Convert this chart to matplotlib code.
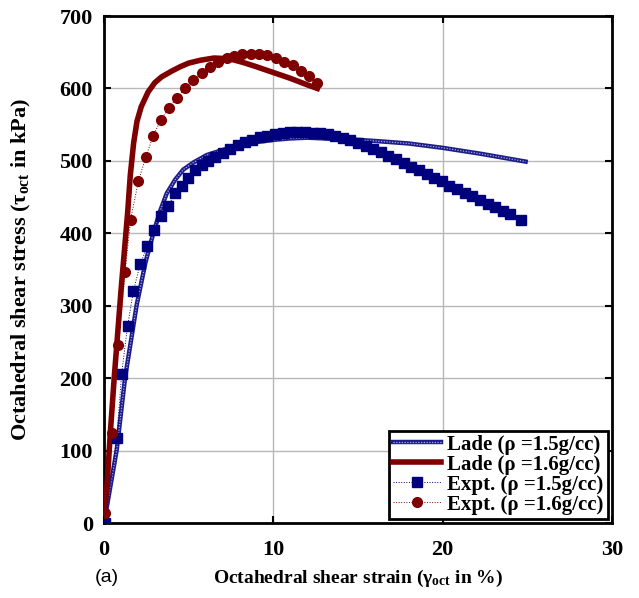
import matplotlib
matplotlib.use('Agg')
import matplotlib.pyplot as plt
from matplotlib.legend_handler import HandlerTuple

# Expt. rho = 1.5 g/cc (blue squares)
expt15_x = [0.06, 0.75, 1.04, 1.39, 1.73, 2.13, 2.56, 2.95, 3.34, 3.8, 4.19, 4.6, 4.95,
            5.37, 5.77, 6.16, 6.56, 7.0, 7.44, 7.89, 8.33, 8.76, 9.21, 9.65, 10.1, 10.55,
            10.99, 11.42, 11.87, 12.32, 12.76, 13.2, 13.65, 14.1, 14.55, 15.0, 15.45,
            15.9, 16.35, 16.8, 17.25, 17.7, 18.15, 18.6, 19.05, 19.5, 19.95, 20.4, 20.85,
            21.3, 21.75, 22.2, 22.65, 23.1, 23.55, 24.0, 24.6]
expt15_y = [0, 117, 206, 272, 320, 357, 382, 405, 424, 438, 455, 466, 476,
            487, 495, 500, 506, 511, 517, 522, 526, 529, 533, 535, 537, 538,
            540, 540, 540, 539, 538, 537, 535, 532, 529, 525, 521,
            517, 512, 507, 502, 497, 492, 487, 482, 477, 472, 466, 461,
            456, 451, 446, 441, 436, 431, 426, 418]

# Expt. rho = 1.6 g/cc (red circles)
expt16_x = [0.06, 0.45, 0.85, 1.24, 1.57, 2.03, 2.48, 2.91, 3.34, 3.83, 4.29, 4.78, 5.28,
            5.77, 6.26, 6.75, 7.24, 7.7, 8.17, 8.66, 9.16, 9.65, 10.16, 10.65, 11.14,
            11.63, 12.1, 12.6]
expt16_y = [14, 124, 246, 346, 419, 472, 506, 535, 556, 573, 587, 600, 612,
            621, 630, 637, 642, 645, 647, 648, 648, 646, 642, 636, 632,
            624, 617, 607]

# Lade model curves
lade15_x = [0, 0.75, 1.24, 1.92, 2.45, 2.91, 3.3, 3.7, 4.2, 4.68, 5.3, 6.06, 7.0, 8.03,
            9.0, 10.0, 11.0, 12.0, 13.0, 14.0, 15.0, 16.3, 18.0, 20.0, 22.2, 24.9]
lade15_y = [0, 101, 200, 300, 360, 400, 430, 455, 474, 488, 498, 508, 515, 522,
            526, 529, 531, 532, 531, 530, 529, 527, 524, 518, 510, 499]

lade16_x = [0, 0.2, 0.37, 0.6, 0.8, 1.0, 1.2, 1.4, 1.55, 1.75, 1.95, 2.2, 2.6, 3.0, 3.4,
            4.0, 4.5, 5.0, 5.7, 6.5, 7.4, 8.2, 9.0, 10.0, 11.0, 12.0, 12.6]
lade16_y = [0, 60, 124, 200, 260, 320, 375, 430, 480, 525, 555, 575, 595, 608, 616,
            624, 630, 635, 639, 642, 641, 636, 630, 622, 614, 605, 600]

legend_labels = ['Lade (\u03c1 =1.5g/cc)', 'Lade (\u03c1 =1.6g/cc)',
                 'Expt. (\u03c1 =1.5g/cc)', 'Expt. (\u03c1 =1.6g/cc)']

plt.rcParams['font.family'] = 'Liberation Serif'
plt.rcParams['font.weight'] = 'bold'
plt.rcParams['mathtext.fontset'] = 'custom'
plt.rcParams['mathtext.rm'] = 'Liberation Serif:bold'
plt.rcParams['mathtext.it'] = 'Liberation Serif:bold'
plt.rcParams['mathtext.bf'] = 'Liberation Serif:bold'

fig = plt.figure(figsize=(6.39, 5.98), dpi=100)
ax = fig.add_axes([0.1628, 0.1254, 0.7949, 0.8478])

blue = '#00007f'
red = '#7f0000'

l15a, = ax.plot(lade15_x, lade15_y, color='#1c1c8a', lw=3.2, zorder=3)
l15b, = ax.plot(lade15_x, lade15_y, color='#a8a8dc', lw=0.9, ls=(0, (1, 1.2)), zorder=3)
l16, = ax.plot(lade16_x, lade16_y, color=red, lw=4, zorder=3)
e15, = ax.plot(expt15_x, expt15_y, color=blue, lw=0.7, ls=':', marker='s', ms=6.5,
               mfc=blue, mec=blue, zorder=4)
e16, = ax.plot(expt16_x, expt16_y, color=red, lw=0.7, ls=':', marker='o', ms=7,
               mfc=red, mec=red, zorder=4)

ax.set_xlim(0, 30)
ax.set_ylim(0, 700)
ax.set_xticks([0, 10, 20, 30])
ax.set_yticks(range(0, 701, 100))
ax.grid(True, color='#b8b8b8', lw=1.0, ls='-')
ax.set_axisbelow(True)
ax.tick_params(direction='in', length=5, width=1.5, labelsize=16, top=True, right=True,
               pad=8)
ax.tick_params(axis='x', pad=12)
for lab in ax.get_xticklabels() + ax.get_yticklabels():
    lab.set_fontweight('bold')
for s in ax.spines.values():
    s.set_linewidth(2)

ax.set_xlabel('Octahedral shear strain (\u03b3$_{\\mathbf{oct}}$ in %)', fontsize=14,
              fontweight='bold')
ax.xaxis.set_label_coords(0.5, -0.088)
ax.set_ylabel('Octahedral shear stress (\u03c4$_{\\mathbf{oct}}$ in kPa)', fontsize=16,
              fontweight='bold')
ax.yaxis.set_label_coords(-0.14, 0.5)

fig.text(0.148, 0.034, '(a)', fontsize=14, fontweight='normal', family='Liberation Sans',
         ha='left', va='center')

leg = ax.legend([(l15a, l15b), l16, e15, e16], legend_labels,
                handler_map={tuple: HandlerTuple(ndivide=1, pad=0)},
                loc='lower right', fontsize=15, fancybox=False, framealpha=1,
                edgecolor='black', borderpad=0.2, labelspacing=0.0,
                handlelength=2.3, handletextpad=0.3, borderaxespad=0.2)
leg.get_frame().set_linewidth(2)
for t in leg.get_texts():
    t.set_fontweight('bold')

fig.savefig('out.png', dpi=100)
